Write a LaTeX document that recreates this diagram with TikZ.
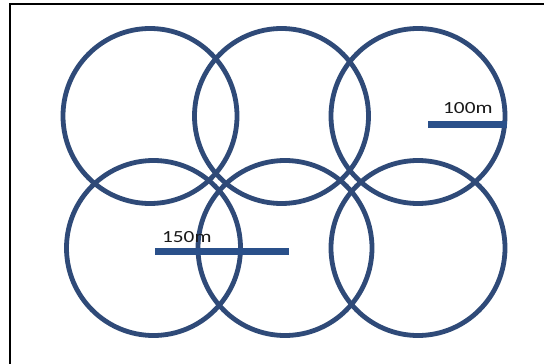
\documentclass[tikz,border=0pt]{standalone}
\usepackage{fontspec}
\setmainfont{Carlito}
\definecolor{ringblue}{RGB}{47,74,120}
\definecolor{barblue}{RGB}{42,80,138}
\begin{document}
\begin{tikzpicture}[x=1pt,y=-1pt,
  ring/.style={draw=ringblue,line width=4.8pt},
  bar/.style={draw=barblue,line width=7pt},
  lbl/.style={font=\fontsize{17}{17}\selectfont,inner sep=0pt,anchor=base west,text=black!90}]
\clip (0,0) rectangle (544,364);
\fill[white] (0,0) rectangle (544,364);
\draw[line width=2pt] (10,420) -- (10,4) -- (600,4);
\foreach \cx/\cy in {150/116,281.5/116,418/116,153.5/248,285/248,418/248}
  \draw[ring] (\cx,\cy) ellipse [x radius=87, y radius=87.5];
\coordinate (a1) at (428,124);
\coordinate (a2) at (507,124);
\coordinate (b1) at (155,251.5);
\coordinate (b2) at (289,251.5);
\draw[bar] (a1) -- (a2);
\draw[bar] (b1) -- (b2);
\node[lbl] (t100) at (443,113) {\scalebox{1.25}[1]{100m}};
\node[lbl] (t150) at (162,242) {\scalebox{1.25}[1]{150m}};
\end{tikzpicture}
\end{document}
